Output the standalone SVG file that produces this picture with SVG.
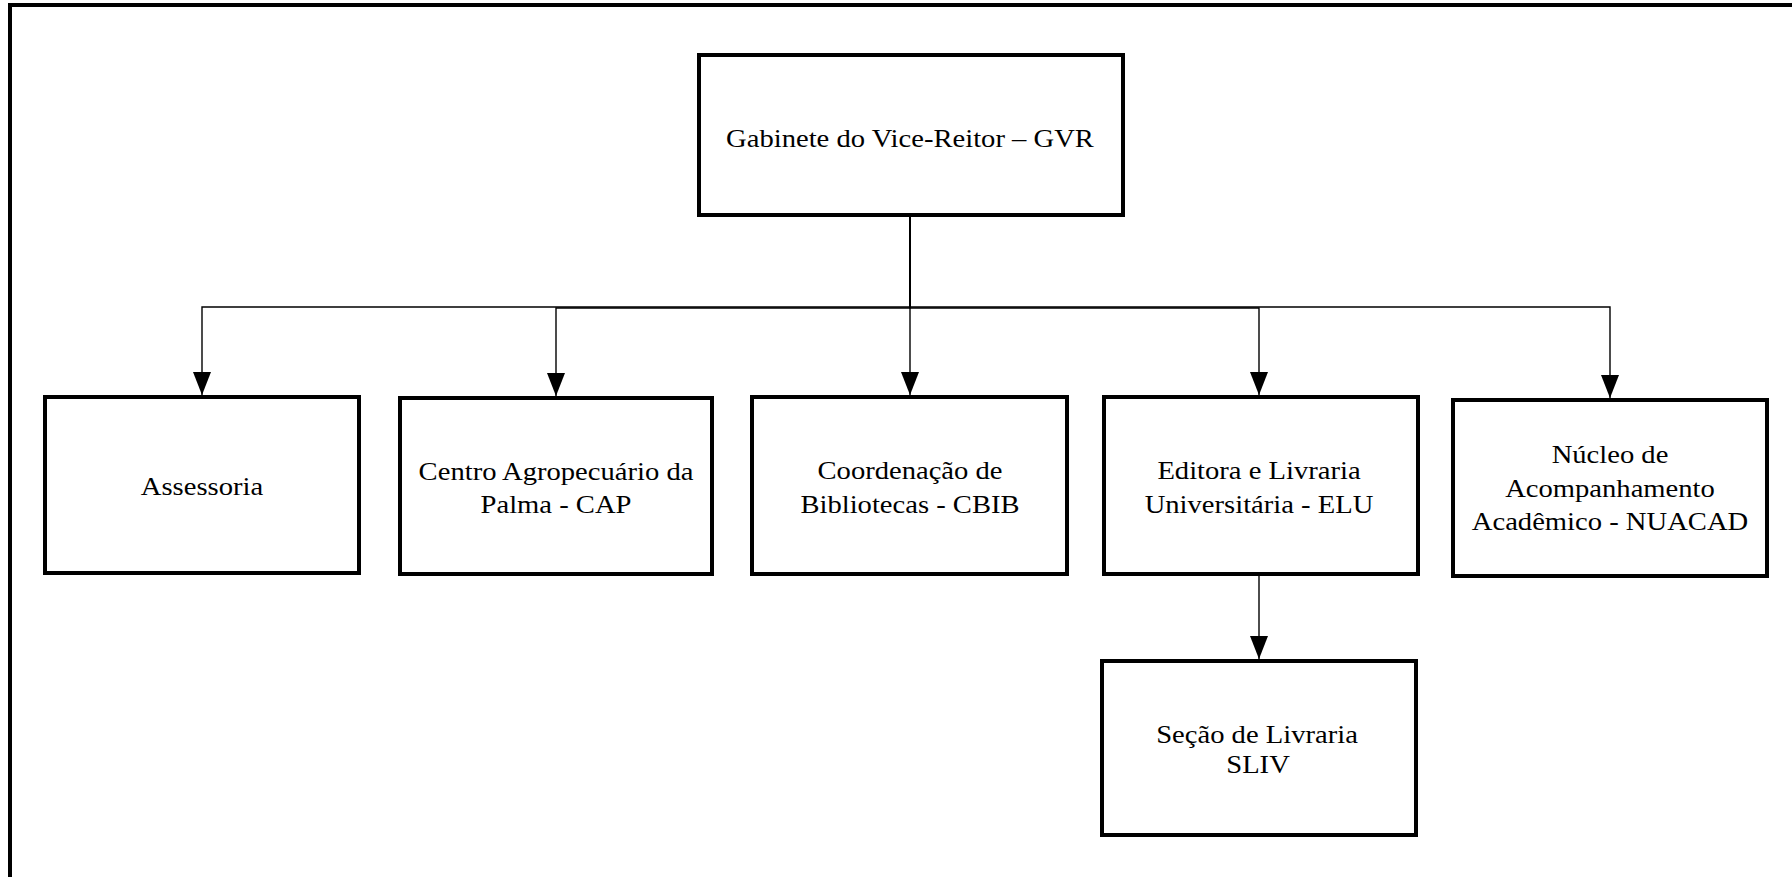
<svg xmlns="http://www.w3.org/2000/svg" width="1792" height="877" viewBox="0 0 1792 877">
<style>
.box{fill:#fff;stroke:#000;stroke-width:4}
.con{fill:none;stroke:#000;stroke-width:1.4}
.t{font-family:"Liberation Serif","Times New Roman",serif;font-size:26px;fill:#000;text-anchor:middle}
</style>
<defs>
<marker id="arr" markerUnits="userSpaceOnUse" markerWidth="24" markerHeight="20" viewBox="0 -10 24 20" refX="23" refY="0" orient="auto">
<path d="M0,-9 L23,0 L0,9 z" fill="#000"/>
</marker>
</defs>
<rect x="0" y="0" width="1792" height="877" fill="#fff"/>
<path d="M10,877 V5 H1792" fill="none" stroke="#000" stroke-width="4"/>
<g id="connectors">
<path class="con" d="M910,217 V307 H202 V395" marker-end="url(#arr)"/>
<path class="con" d="M910,217 V308 H556 V396" marker-end="url(#arr)"/>
<path class="con" d="M910,217 V395" marker-end="url(#arr)"/>
<path class="con" d="M910,217 V308 H1259 V395" marker-end="url(#arr)"/>
<path class="con" d="M910,217 V307 H1610 V398" marker-end="url(#arr)"/>
<path class="con" d="M1259,576 V659" marker-end="url(#arr)"/>
</g>
<g id="gvr">
<rect class="box" x="699" y="55" width="424" height="160"/>
<text class="t" transform="translate(910,147) scale(1.1,1)">Gabinete do Vice-Reitor – GVR</text>
</g>
<g id="assessoria">
<rect class="box" x="45" y="397" width="314" height="176"/>
<text class="t" transform="translate(202,495) scale(1.1,1)">Assessoria</text>
</g>
<g id="cap">
<rect class="box" x="400" y="398" width="312" height="176"/>
<text class="t" transform="translate(556,480) scale(1.1,1)">Centro Agropecuário da</text>
<text class="t" transform="translate(556,513) scale(1.1,1)">Palma - CAP</text>
</g>
<g id="cbib">
<rect class="box" x="752" y="397" width="315" height="177"/>
<text class="t" transform="translate(910,479) scale(1.1,1)">Coordenação de</text>
<text class="t" transform="translate(910,513) scale(1.1,1)">Bibliotecas - CBIB</text>
</g>
<g id="elu">
<rect class="box" x="1104" y="397" width="314" height="177"/>
<text class="t" transform="translate(1259,479) scale(1.1,1)">Editora e Livraria</text>
<text class="t" transform="translate(1259,513) scale(1.1,1)">Universitária - ELU</text>
</g>
<g id="nuacad">
<rect class="box" x="1453" y="400" width="314" height="176"/>
<text class="t" transform="translate(1610,463) scale(1.1,1)">Núcleo de</text>
<text class="t" transform="translate(1610,497) scale(1.1,1)">Acompanhamento</text>
<text class="t" transform="translate(1610,530) scale(1.1,1)">Acadêmico - NUACAD</text>
</g>
<g id="sliv">
<rect class="box" x="1102" y="661" width="314" height="174"/>
<text class="t" transform="translate(1257,743) scale(1.1,1)">Seção de Livraria</text>
<text class="t" transform="translate(1258,773) scale(1.1,1)">SLIV</text>
</g>
</svg>
